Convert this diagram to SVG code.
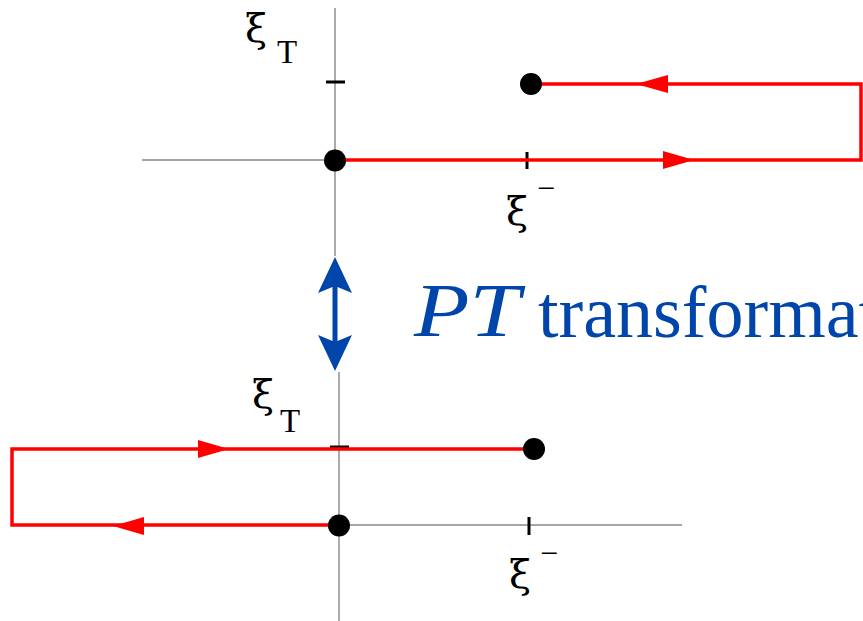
<svg xmlns="http://www.w3.org/2000/svg" width="863" height="621" viewBox="0 0 863 621">
<style>
.axis{stroke:#888;stroke-width:1.4;fill:none}
.tick{stroke:#000;stroke-width:3;fill:none}
.path{stroke:#ff0000;stroke-width:3.5;fill:none;stroke-linejoin:miter}
.head{fill:#ff0000}
.dot{fill:#000}
.lbl{font-family:"Liberation Serif","Times New Roman",serif;fill:#000}
.xi{font-family:"DejaVu Serif","Liberation Serif",serif;font-size:40px}
.blue{fill:#0045aa}
</style>
<rect width="863" height="621" fill="#fff"/>
<g id="axes">
<line class="axis" x1="335" y1="8" x2="335" y2="256"/>
<line class="axis" x1="142" y1="160" x2="860" y2="160"/>
<line class="axis" x1="339" y1="372" x2="339" y2="621"/>
<line class="axis" x1="12" y1="525" x2="682" y2="525"/>
<line class="tick" x1="326" y1="82" x2="345" y2="82"/>
<line class="tick" x1="527" y1="152" x2="527" y2="169"/>
<line class="tick" x1="330" y1="447" x2="349" y2="447"/>
<line class="tick" x1="529" y1="517" x2="529" y2="535"/>
</g>
<g id="connectors">
<path class="path" d="M335,160 H861 V84 H531"/>
<polygon class="head" points="694,160 663,151 663,169"/>
<polygon class="head" points="636,84 668,75 668,93"/>
<path class="path" d="M534,449 H12 V525 H339"/>
<polygon class="head" points="229,449 198,440 198,458"/>
<polygon class="head" points="113,526 144,517 144,535"/>
<path class="blue" d="M335,257 L352,293 L337.5,287 L337.5,341 L352,335 L335,371 L318,335 L332.5,341 L332.5,287 L318,293 Z"/>
</g>
<g id="node-top-origin"><circle class="dot" cx="335" cy="160.5" r="11"/></g>
<g id="node-top-end"><circle class="dot" cx="531" cy="84" r="11"/></g>
<g id="node-bottom-origin"><circle class="dot" cx="339" cy="525.5" r="11"/></g>
<g id="node-bottom-end"><circle class="dot" cx="534" cy="449" r="11"/></g>
<g id="labels">
<text class="xi" x="245" y="42">ξ</text>
<text class="lbl" x="277" y="63" font-size="33">T</text>
<text class="xi" x="506" y="225">ξ</text>
<text class="lbl" x="537" y="199" font-size="32">−</text>
<text class="xi" x="252" y="408">ξ</text>
<text class="lbl" x="280" y="432" font-size="33">T</text>
<text class="xi" x="509" y="588">ξ</text>
<text class="lbl" x="540" y="564" font-size="32">−</text>
<text class="lbl blue" x="414" y="336" font-size="77" font-style="italic" textLength="106" lengthAdjust="spacingAndGlyphs">PT</text>
<text class="lbl blue" x="538" y="337" font-size="74">transformation</text>
</g>
</svg>
